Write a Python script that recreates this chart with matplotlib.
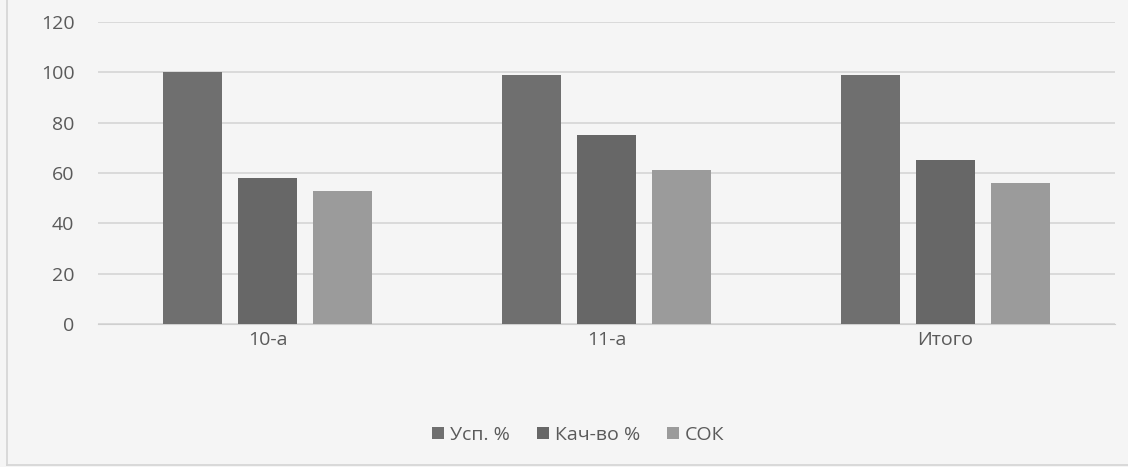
import matplotlib.pyplot as plt
import numpy as np
from matplotlib.lines import Line2D

categories = ["10-а", "11-а", "Итого"]
series_names = ["Усп. %", "Кач-во %", "СОК"]
usp = [100, 99, 99]
kach = [58, 75, 65]
sok = [53, 61, 56]
yticks = [0, 20, 40, 60, 80, 100, 120]

colors = ["#6f6f6f", "#676767", "#9b9b9b"]
bg = "#f5f5f5"

plt.rcParams['font.family'] = ['Open Sans', 'DejaVu Sans']

fig = plt.figure(figsize=(11.28, 4.67), dpi=100, facecolor=bg)
fig.lines.append(Line2D([7/1128, 7/1128], [2/467, 1], transform=fig.transFigure,
                        color="#d6d6d6", linewidth=1.3))
fig.lines.append(Line2D([7/1128, 1], [2/467, 2/467], transform=fig.transFigure,
                        color="#d6d6d6", linewidth=1.3))
ax = fig.add_axes([98/1128, 1 - 324/467, (1115 - 98)/1128, (324 - 22)/467])
ax.set_facecolor(bg)

x = np.arange(len(categories))
w = 0.174
step = 0.221
for i, (vals, name) in enumerate(zip([usp, kach, sok], series_names)):
    ax.bar(x + (i - 1) * step, vals, width=w, color=colors[i], label=name, zorder=3)

ax.set_xlim(-0.5, 2.5)
ax.set_ylim(0, 120)
ax.set_yticks(yticks)
ax.set_xticks(x)
ax.set_xticklabels(categories)
ax.grid(axis='y', color="#d2d2d2", linewidth=1.1, zorder=0)
ax.tick_params(axis='both', length=0, labelsize=14, labelcolor="#5a5a5a")
ax.tick_params(axis='y', pad=17)
ax.tick_params(axis='x', pad=5)
for s in ['top', 'right', 'left']:
    ax.spines[s].set_visible(False)
ax.spines['bottom'].set_color("#cfcfcf")

leg = fig.legend(loc='center', bbox_to_anchor=(578/1128, 1 - 435/467), ncol=3, frameon=False,
                 fontsize=14, handlelength=0.62, handleheight=0.62, handletextpad=0.3,
                 columnspacing=1.4)
for t in leg.get_texts():
    t.set_color("#5a5a5a")

fig.savefig("out.png", dpi=100, facecolor=bg)
